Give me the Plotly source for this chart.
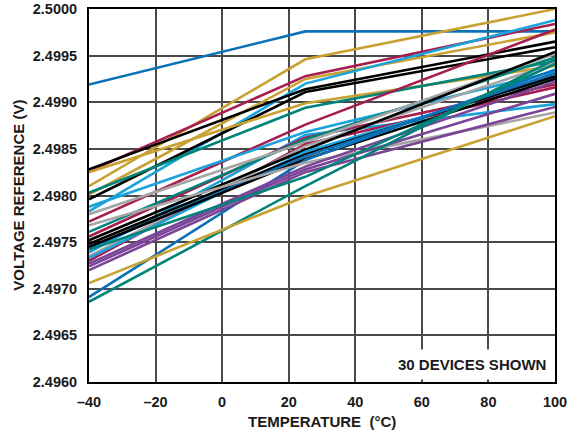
import plotly.graph_objects as go

temps = [-40, 25, 100]

palette = {
    "blue": "#0a71b9",
    "gold": "#c9a133",
    "crimson": "#a61d4f",
    "teal": "#00847a",
    "black": "#000000",
    "cyan": "#1ba3dc",
    "gray": "#a5a5a5",
    "purple": "#7a4497",
}

device_colors = [
    "blue", "gold", "crimson", "gold", "cyan", "black", "black", "gold",
    "teal", "crimson", "cyan", "cyan", "crimson", "teal", "gray", "crimson",
    "gray", "black", "cyan", "black", "blue", "black", "blue", "gray",
    "purple", "purple", "purple", "teal", "teal", "gold",
]

v_m40 = [
    2.49919, 2.49810, 2.49826, 2.49801, 2.49783, 2.49828, 2.49796, 2.49825,
    2.49803, 2.49772, 2.49788, 2.49739, 2.49756, 2.49761, 2.49780, 2.49730,
    2.49735, 2.49752, 2.49733, 2.49748, 2.49744, 2.49745, 2.49691, 2.49768,
    2.49727, 2.49724, 2.49720, 2.49742, 2.49686, 2.49706,
]
v_25 = [
    2.49976, 2.49946, 2.49928, 2.49925, 2.49920, 2.49914, 2.49911, 2.49899,
    2.49894, 2.49876, 2.49868, 2.49865, 2.49862, 2.49860, 2.49857, 2.49855,
    2.49853, 2.49849, 2.49847, 2.49844, 2.49842, 2.49839, 2.49838, 2.49835,
    2.49831, 2.49828, 2.49825, 2.49820, 2.49810, 2.49799,
]
v_100 = [
    2.49976, 2.50000, 2.49984, 2.49975, 2.49988, 2.49965, 2.49959, 2.49939,
    2.49944, 2.49978, 2.49933, 2.49898, 2.49919, 2.49948, 2.49952, 2.49916,
    2.49942, 2.49954, 2.49927, 2.49928, 2.49931, 2.49925, 2.49935, 2.49889,
    2.49922, 2.49909, 2.49895, 2.49941, 2.49946, 2.49885,
]

x_ticks = [-40, -20, 0, 20, 40, 60, 80, 100]
x_ticktext = ["\u201340", "\u201320", "0", "20", "40", "60", "80", "100"]
y_ticks = [2.4960, 2.4965, 2.4970, 2.4975, 2.4980, 2.4985, 2.4990, 2.4995, 2.5000]
y_ticktext = ["2.4960", "2.4965", "2.4970", "2.4975", "2.4980", "2.4985", "2.4990", "2.4995", "2.5000"]

fig = go.Figure()
for i in range(len(device_colors)):
    fig.add_trace(go.Scatter(
        x=temps, y=[v_m40[i], v_25[i], v_100[i]], mode="lines",
        line=dict(color=palette[device_colors[i]], width=2.6),
        showlegend=False, hoverinfo="skip",
    ))

FAM = "Liberation Sans, Arial, sans-serif"
tickfont = dict(family=FAM, size=14.5, color="#1a1a1a", weight="bold")

fig.update_layout(
    width=568, height=438,
    margin=dict(l=89, r=13, t=9, b=56),
    paper_bgcolor="white", plot_bgcolor="white",
    font=dict(family=FAM, size=14, color="#1a1a1a"),
    xaxis=dict(
        range=[-40, 100], tickvals=x_ticks, ticktext=x_ticktext,
        showgrid=True, gridcolor="#4a4a4a", gridwidth=1.6, zeroline=False,
        showline=True, linecolor="black", linewidth=2, mirror=True,
        ticks="", ticklabelstandoff=6, automargin=False,
        tickfont=tickfont,
    ),
    yaxis=dict(
        range=[2.4960, 2.5000], tickvals=y_ticks, ticktext=y_ticktext,
        showgrid=True, gridcolor="#4a4a4a", gridwidth=1.6, zeroline=False,
        showline=True, linecolor="black", linewidth=2, mirror=True,
        ticks="", ticklabelstandoff=7, automargin=False,
        tickfont=tickfont,
    ),
)

fig.add_annotation(
    x=0.5, y=-0.107, xref="paper", yref="paper", xanchor="center", yanchor="middle",
    text="<b>TEMPERATURE  (°C)</b>", showarrow=False,
    font=dict(family=FAM, size=15, color="#1a1a1a"),
)
fig.add_annotation(
    x=-0.152, y=0.5, xref="paper", yref="paper", xanchor="center", yanchor="middle",
    text="<b>VOLTAGE REFERENCE (V)</b>", showarrow=False, textangle=-90,
    font=dict(family=FAM, size=15, color="#1a1a1a"),
)

fig.add_annotation(
    x=1, y=0, xref="paper", yref="paper", xanchor="right", yanchor="bottom",
    text="<b>30 DEVICES SHOWN</b>", showarrow=False,
    font=dict(family=FAM, size=15, color="#1a1a1a"),
    bgcolor="white", borderpad=6, xshift=-2, yshift=2,
)

fig.write_html("out.html", config={"displayModeBar": False},
               post_script="document.body.style.margin='0';")
